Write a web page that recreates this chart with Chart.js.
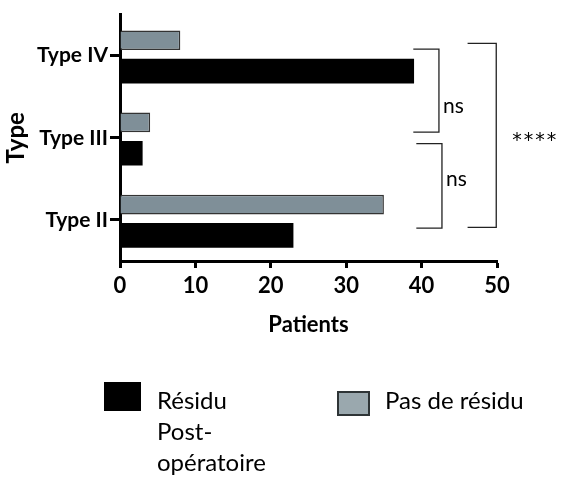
<!DOCTYPE html>
<html>
<head>
<meta charset="utf-8">
<script src="https://cdn.jsdelivr.net/npm/chart.js@4.4.1/dist/chart.umd.min.js"></script>
<style>
  html, body { margin: 0; padding: 0; background: #fff; }
  #wrap { position: relative; width: 563px; height: 479px; }
</style>
</head>
<body>
<div id="wrap"><canvas id="c"></canvas></div>
<script>
// Categories (top to bottom) and patient counts per group
const categories = ['Type IV', 'Type III', 'Type II'];
const pasDeResidu = [8, 4, 35];
const residuPostOp = [39, 3, 23];
const xTicks = [0, 10, 20, 30, 40, 50];

// Significance brackets: category span (fractional index) and x extent (patients)
const brackets = [
  { from: -0.08, to: 0.93, armStart: 38.9, x: 42.3, label: 'ns', labelDy: 16 },
  { from: 1.07, to: 2.1, armStart: 39.3, x: 42.7, label: 'ns', labelDy: -7 },
  { from: -0.15, to: 2.09, armStart: 46.1, x: 49.9, label: '****', labelDy: 6 }
];

const legendItems = [
  { lines: ['Résidu', 'Post-', 'opératoire'], fill: '#000000', border: '#000000' },
  { lines: ['Pas de résidu'], fill: '#9aa8ae', border: '#2e3436' }
];

const FONT = 'Lato, "Open Sans", sans-serif';

const bracketPlugin = {
  id: 'brackets',
  afterDatasetsDraw(chart) {
    const { ctx, scales: { x, y } } = chart;
    ctx.save();
    ctx.strokeStyle = '#222';
    ctx.lineWidth = 1.3;
    ctx.fillStyle = '#000';
    ctx.textBaseline = 'middle';
    ctx.textAlign = 'left';
    brackets.forEach(b => {
      const y0 = y.getPixelForValue(b.from);
      const y1 = y.getPixelForValue(b.to);
      const xs = x.getPixelForValue(b.armStart);
      const xv = x.getPixelForValue(b.x);
      ctx.beginPath();
      ctx.moveTo(xs, y0); ctx.lineTo(xv, y0); ctx.lineTo(xv, y1); ctx.lineTo(xs, y1);
      ctx.stroke();
      const mid = (y0 + y1) / 2 + b.labelDy;
      if (b.label === 'ns') {
        ctx.font = '21px ' + FONT;
        ctx.letterSpacing = '0px';
        ctx.fillText(b.label, xv + 4, mid);
      } else {
        ctx.font = '19px "DejaVu Sans", sans-serif';
        ctx.letterSpacing = '2px';
        ctx.fillText(b.label, xv + 16, mid);
      }
    });
    ctx.restore();
  }
};

const legendPlugin = {
  id: 'customLegend',
  afterDraw(chart) {
    const ctx = chart.ctx;
    ctx.save();
    ctx.font = '24px ' + FONT;
    ctx.textBaseline = 'middle';
    ctx.textAlign = 'left';
    const pos = [
      { bx: 105, by: 383, bw: 35, bh: 27, tx: 157, ty: 401 },
      { bx: 338, by: 392, bw: 31, bh: 23, tx: 385, ty: 401 }
    ];
    legendItems.forEach((it, i) => {
      const p = pos[i];
      ctx.fillStyle = it.fill;
      ctx.fillRect(p.bx, p.by, p.bw, p.bh);
      ctx.strokeStyle = it.border;
      ctx.lineWidth = 2;
      ctx.strokeRect(p.bx, p.by, p.bw, p.bh);
      ctx.fillStyle = '#000';
      it.lines.forEach((t, k) => ctx.fillText(t, p.tx, p.ty + k * 31));
    });
    ctx.restore();
  }
};

new Chart(document.getElementById('c'), {
  type: 'bar',
  data: {
    labels: categories,
    datasets: [
      {
        label: 'Pas de résidu',
        data: pasDeResidu,
        backgroundColor: '#7f8f98',
        borderColor: '#333',
        borderWidth: 1.5,
        barPercentage: 0.64
      },
      {
        label: 'Résidu Post-opératoire',
        data: residuPostOp,
        backgroundColor: '#000',
        borderColor: '#000',
        borderWidth: 0,
        barPercentage: 0.8
      }
    ]
  },
  options: {
    indexAxis: 'y',
    responsive: true,
    maintainAspectRatio: false,
    animation: false,
    layout: { padding: { left: 0, top: 8, right: 66, bottom: 141 } },
    plugins: { legend: { display: false }, tooltip: { enabled: false } },
    datasets: { bar: { categoryPercentage: 0.75 } },
    scales: {
      x: {
        min: 0, max: 50,
        afterBuildTicks(scale) { scale.ticks = xTicks.map(v => ({ value: v })); },
        afterFit(scale) { scale.height = 77; },
        border: { display: true, color: '#000', width: 3 },
        grid: { display: true, drawOnChartArea: false, drawTicks: true, tickLength: 7, tickWidth: 3, tickColor: '#000' },
        ticks: { color: '#000', padding: 5, font: { family: FONT, size: 22, weight: 'bold' } },
        title: { display: true, text: 'Patients', color: '#000', padding: 0, font: { family: FONT, size: 22, weight: 'bold' } }
      },
      y: {
        afterFit(scale) { scale.width = 120; },
        border: { display: true, color: '#000', width: 3 },
        grid: { display: true, offset: false, drawOnChartArea: false, drawTicks: true, tickLength: 10, tickWidth: 3, tickColor: '#000' },
        ticks: { color: '#000', padding: 2, font: { family: FONT, size: 21, weight: 'bold' } },
        title: { display: true, text: 'Type', color: '#000', padding: { top: 2, bottom: 0 }, font: { family: FONT, size: 24, weight: 'bold' } }
      }
    }
  },
  plugins: [bracketPlugin, legendPlugin]
});
</script>
</body>
</html>
